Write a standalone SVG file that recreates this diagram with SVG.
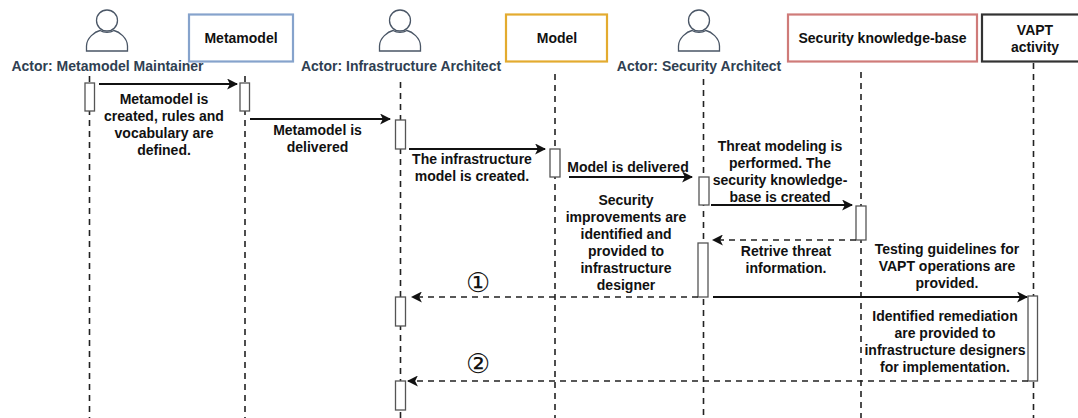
<svg xmlns="http://www.w3.org/2000/svg" width="1078" height="418" viewBox="0 0 1078 418">
<style>
text{font-family:"Liberation Sans",Arial,sans-serif;font-weight:700;font-size:14px;fill:#111;text-anchor:middle}
.actor-label{font-size:14px;fill:#2f3f52}
.person{fill:none;stroke:#4a5666;stroke-width:1.3}
.box{fill:#fff;stroke-width:2.2}
.life{fill:none;stroke:#222;stroke-width:1.6;stroke-dasharray:6 5}
.act{fill:#fff;stroke:#555;stroke-width:1.3}
.msg{fill:none;stroke:#111;stroke-width:2}
.ret{fill:none;stroke:#222;stroke-width:1.5;stroke-dasharray:6 5}
.num{font-family:"DejaVu Sans",sans-serif;font-weight:400;font-size:27px}
</style>
<defs>
<marker id="arrow" viewBox="0 0 10 10" refX="9" refY="5" markerWidth="11" markerHeight="11" markerUnits="userSpaceOnUse" orient="auto"><path d="M0 0L10 5L0 10L2.500 5Z" fill="#111"/></marker>
</defs>
<g id="lifelines">
<path class="life" d="M89.500 76V418"/>
<path class="life" d="M245 76V418"/>
<path class="life" d="M400.500 82V418"/>
<path class="life" d="M555 74V418"/>
<path class="life" d="M703.500 79V418"/>
<path class="life" d="M861 72V418"/>
<path class="life" d="M1033.500 63V418"/>
</g>
<g id="actor-maintainer"><circle class="person" cx="107" cy="20.500" r="10.500"/><path class="person" d="M86.500 51V46C86.500 38 95 31.500 100 30.500C104 33 110 33 114 30.500C119 31.500 127.500 38 127.500 46V51Z"/><text class="actor-label" x="107.500" y="71">Actor: Metamodel Maintainer</text></g>
<g id="metamodel"><rect class="box" x="189" y="14.500" width="104" height="47" stroke="#86a3cc"/><text x="241" y="43">Metamodel</text></g>
<g id="actor-infrastructure"><circle class="person" cx="400" cy="20.500" r="10.500"/><path class="person" d="M379.500 51V46C379.500 38 388 31.500 393 30.500C397 33 403 33 407 30.500C412 31.500 420.500 38 420.500 46V51Z"/><text class="actor-label" x="401" y="71">Actor: Infrastructure Architect</text></g>
<g id="model"><rect class="box" x="506" y="14.500" width="101" height="47" stroke="#e3ab2f"/><text x="557" y="43">Model</text></g>
<g id="actor-security"><circle class="person" cx="699" cy="20.500" r="10.500"/><path class="person" d="M678.500 51V46C678.500 38 687 31.500 692 30.500C696 33 702 33 706 30.500C711 31.500 719.500 38 719.500 46V51Z"/><text class="actor-label" x="699" y="71">Actor: Security Architect</text></g>
<g id="knowledge-base"><rect class="box" x="788" y="14.500" width="189" height="47" stroke="#cf7b79"/><text x="882.500" y="43">Security knowledge-base</text></g>
<g id="vapt"><rect class="box" x="982" y="14.500" width="100" height="47" stroke="#333"/><text x="1035" y="34.500">VAPT</text><text x="1035" y="52">activity</text></g>
<g id="activations">
<rect class="act" x="85" y="83" width="9.500" height="28"/>
<rect class="act" x="240" y="83" width="9.500" height="28"/>
<rect class="act" x="395.500" y="120" width="10" height="29"/>
<rect class="act" x="550" y="149" width="10" height="28"/>
<rect class="act" x="699" y="177" width="10" height="28"/>
<rect class="act" x="856" y="206" width="10" height="34"/>
<rect class="act" x="698" y="243" width="10" height="54"/>
<rect class="act" x="395.500" y="297" width="10" height="29"/>
<rect class="act" x="395.500" y="381" width="10" height="29"/>
<rect class="act" x="1028" y="296" width="9.500" height="85"/>
</g>
<g id="connectors">
<path class="msg" marker-end="url(#arrow)" d="M99 84H237"/>
<path class="msg" marker-end="url(#arrow)" d="M250 119H390"/>
<path class="msg" marker-end="url(#arrow)" d="M409 149H545"/>
<path class="msg" marker-end="url(#arrow)" d="M569 177H692"/>
<path class="msg" marker-end="url(#arrow)" d="M711 205H852"/>
<path class="ret" marker-end="url(#arrow)" d="M856 240H713"/>
<path class="ret" marker-end="url(#arrow)" d="M698 297H412"/>
<path class="msg" marker-end="url(#arrow)" d="M713 297H1027"/>
<path class="ret" marker-end="url(#arrow)" d="M1028 381H408"/>
</g>
<g id="labels">
<text x="164" y="104">Metamodel is</text><text x="164" y="121">created, rules and</text><text x="164" y="138">vocabulary are</text><text x="164" y="155">defined.</text>
<text x="317.500" y="135">Metamodel is</text><text x="317.500" y="152">delivered</text>
<text x="472" y="164">The infrastructure</text><text x="472" y="181">model is created.</text>
<text x="628" y="172">Model is delivered</text>
<text x="780" y="151">Threat modeling is</text><text x="780" y="168">performed. The</text><text x="780" y="185">security knowledge-</text><text x="780" y="202">base is created</text>
<text x="626" y="205">Security</text><text x="626" y="222">improvements are</text><text x="626" y="239">identified and</text><text x="626" y="256">provided to</text><text x="626" y="273">infrastructure</text><text x="626" y="290">designer</text>
<text x="786" y="256">Retrive threat</text><text x="786" y="273">information.</text>
<text x="947" y="254">Testing guidelines for</text><text x="947" y="271">VAPT operations are</text><text x="947" y="288">provided.</text>
<text x="945" y="321">Identified remediation</text><text x="945" y="338">are provided to</text><text x="945" y="355">infrastructure designers</text><text x="945" y="372">for implementation.</text>
<text class="num" x="478" y="292">①</text><text class="num" x="478" y="373">②</text>
</g>
</svg>
